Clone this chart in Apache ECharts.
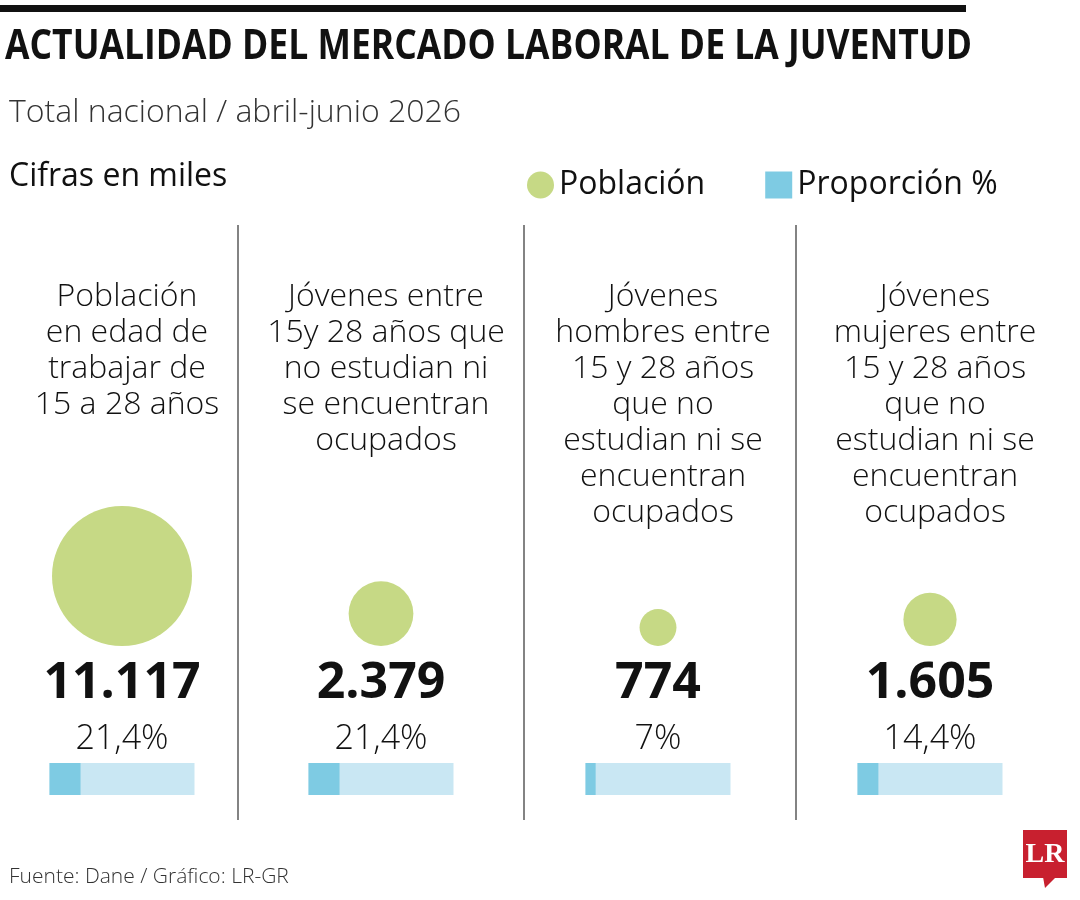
<!DOCTYPE html>
<html lang="es">

<head>
    <meta charset="UTF-8">
    <title>Actualidad del mercado laboral de la juventud</title>
    <script src="https://cdn.jsdelivr.net/npm/echarts@6/dist/echarts.min.js"></script>
    <style>
        html, body { margin: 0; padding: 0; background: #fff; }
    </style>
</head>

<body>
    <div id="chart" style="width: 1080px;height: 900px;"></div>
</body>
<script type="text/javascript">
    // datos (cifras en miles)
    var categorias = [
        'Población\nen edad de\ntrabajar de\n15 a 28 años',
        'Jóvenes entre\n15y 28 años que\nno estudian ni\nse encuentran\nocupados',
        'Jóvenes\nhombres entre\n15 y 28 años\nque no\nestudian ni se\nencuentran\nocupados',
        'Jóvenes\nmujeres entre\n15 y 28 años\nque no\nestudian ni se\nencuentran\nocupados'
    ];
    var poblacion = [11117, 2379, 774, 1605];
    var proporcion = [21.4, 21.4, 7, 14.4];

    // centro de cada columna y separadores
    var centros = [122, 381, 658, 930];
    var separadores = [238, 524, 796];

    var fuenteLigera = "'Open Sans', 'Noto Sans', sans-serif";
    var verde = '#c6d985';
    var azul = '#7ecbe3';
    var azulClaro = '#c9e7f3';
    var radioMax = 70;

    function miles(v) {
        return String(v).replace(/\B(?=(\d{3})+(?!\d))/g, '.');
    }
    function pct(v) {
        return String(v).replace('.', ',') + '%';
    }

    // el titulo va condensado: se mide y se estrecha al ancho del original
    var tituloTexto = 'ACTUALIDAD DEL MERCADO LABORAL DE LA JUVENTUD';
    var tituloFuente = "bold 42px 'Open Sans', 'DejaVu Sans', sans-serif";
    var ctx = document.createElement('canvas').getContext('2d');
    ctx.font = tituloFuente;
    var tituloEscala = 967 / ctx.measureText(tituloTexto).width;

    var chart = echarts.init(document.getElementById('chart'));

    var maxPob = Math.max.apply(null, poblacion);
    var grids = [], xAxes = [], yAxes = [], series = [], titles = [];

    titles.push({
        text: 'Total nacional / abril-junio 2026',
        left: 4, top: 92,
        textStyle: { fontFamily: fuenteLigera, fontSize: 32, fontWeight: 300, color: '#333' }
    });
    titles.push({
        text: 'Cifras en miles',
        left: 4, top: 156,
        textStyle: { fontFamily: fuenteLigera, fontSize: 32, fontWeight: 'normal', color: '#111' }
    });
    titles.push({
        text: 'Fuente: Dane / Gráfico: LR-GR',
        left: 4, top: 862,
        textStyle: { fontFamily: fuenteLigera, fontSize: 21, fontWeight: 300, color: '#333' }
    });

    categorias.forEach(function (cat, i) {
        var c = centros[i];
        var s = 2 * radioMax * Math.sqrt(poblacion[i] / maxPob);

        titles.push({
            text: cat,
            left: c, top: 274, textAlign: 'center',
            textStyle: { fontFamily: fuenteLigera, fontSize: 32, fontWeight: 300, lineHeight: 36, color: '#111' }
        });

        // circulo (población)
        grids.push({ left: c - 100, width: 200, top: 546, height: 100 });
        xAxes.push({ type: 'category', gridIndex: 2 * i, data: [cat], show: false });
        yAxes.push({ type: 'value', gridIndex: 2 * i, min: 0, max: 1, show: false });
        series.push({
            name: 'Población',
            type: 'scatter',
            xAxisIndex: 2 * i, yAxisIndex: 2 * i,
            itemStyle: { color: verde, opacity: 1 },
            data: [{ value: [0, 0, poblacion[i], proporcion[i]], symbolSize: s, symbolOffset: [0, -s / 2] }],
            label: {
                show: true,
                position: 'bottom',
                distance: 8,
                formatter: function (p) {
                    return '{n|' + miles(p.value[2]) + '}\n{p|' + pct(p.value[3]) + '}';
                },
                rich: {
                    n: { fontFamily: "'Open Sans', sans-serif", fontSize: 50, fontWeight: 'bold', color: '#111', lineHeight: 60 },
                    p: { fontFamily: fuenteLigera, fontSize: 34, fontWeight: 300, color: '#111', lineHeight: 50 }
                }
            },
            emphasis: { disabled: true },
            silent: true
        });

        // barra (proporción)
        grids.push({ left: c - 72.5, width: 145, top: 763, height: 32 });
        xAxes.push({ type: 'value', gridIndex: 2 * i + 1, min: 0, max: 100, show: false });
        yAxes.push({ type: 'category', gridIndex: 2 * i + 1, data: [cat], show: false });
        series.push({
            name: 'Proporción %',
            type: 'bar',
            xAxisIndex: 2 * i + 1, yAxisIndex: 2 * i + 1,
            barWidth: '100%',
            itemStyle: { color: azul },
            showBackground: true,
            backgroundStyle: { color: azulClaro },
            data: [proporcion[i]],
            silent: true
        });
    });

    var graficos = [
        { type: 'rect', shape: { x: 0, y: 5, width: 966, height: 7 }, style: { fill: '#111' } },
        {
            type: 'text', x: 5, y: 47, scaleX: tituloEscala,
            style: { text: tituloTexto, font: tituloFuente, fill: '#111', verticalAlign: 'middle' }
        }
    ];
    separadores.forEach(function (x) {
        graficos.push({
            type: 'line',
            shape: { x1: x, y1: 225, x2: x, y2: 820 },
            style: { stroke: '#5a5a5a', lineWidth: 1.5 }
        });
    });
    // logo LR
    graficos.push({
        type: 'group',
        children: [
            { type: 'rect', shape: { x: 1023, y: 830, width: 44, height: 48 }, style: { fill: '#c8202f' } },
            { type: 'polygon', shape: { points: [[1043, 877], [1056, 877], [1045, 888]] }, style: { fill: '#c8202f' } },
            {
                type: 'text', x: 1045, y: 855,
                style: { text: 'LR', fill: '#fff', font: "bold 28px 'Liberation Serif', 'DejaVu Serif', serif", align: 'center', verticalAlign: 'middle' }
            }
        ]
    });

    var option = {
        animation: false,
        title: titles,
        legend: {
            left: 522, top: 164,
            itemWidth: 27, itemHeight: 27,
            itemGap: 60,
            selectedMode: false,
            textStyle: { fontFamily: fuenteLigera, fontSize: 32, color: '#111' },
            data: [
                { name: 'Población', icon: 'circle' },
                { name: 'Proporción %', icon: 'rect' }
            ]
        },
        grid: grids,
        xAxis: xAxes,
        yAxis: yAxes,
        series: series,
        graphic: graficos
    };

    chart.setOption(option);
</script>

</html>
